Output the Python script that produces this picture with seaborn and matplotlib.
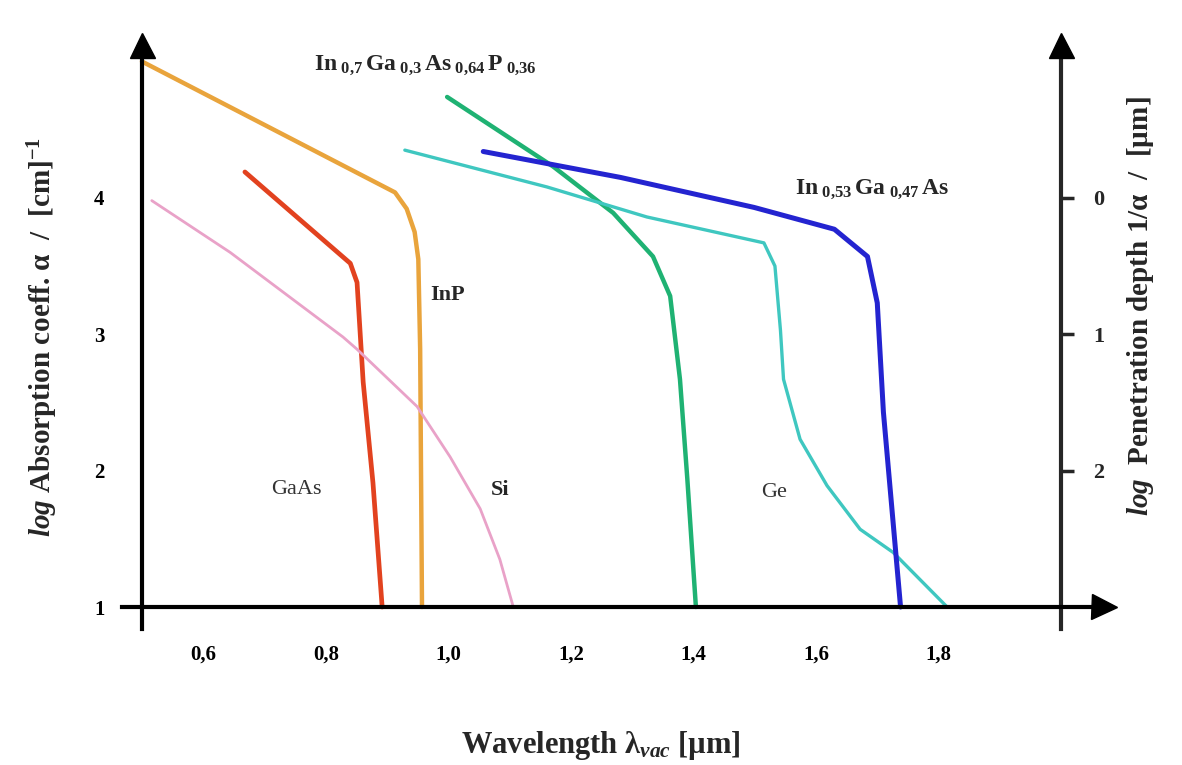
import numpy as np
import pandas as pd
import matplotlib
matplotlib.use("Agg")
import matplotlib.pyplot as plt
import seaborn as sns

# Absorption curves (wavelength in µm, log alpha in cm^-1)
inp_x = [0.50, 0.913, 0.932, 0.945, 0.951, 0.954, 0.957]
inp_y = [5.00, 4.04, 3.92, 3.75, 3.55, 2.89, 1.00]

gaas_x = [0.668, 0.840, 0.851, 0.861, 0.877, 0.892]
gaas_y = [4.19, 3.52, 3.38, 2.65, 1.91, 1.00]

si_x = [0.516, 0.644, 0.828, 0.851, 0.949, 1.003, 1.052, 1.084, 1.106]
si_y = [3.98, 3.60, 2.98, 2.89, 2.47, 2.10, 1.72, 1.35, 1.00]

ingaasp_x = [0.998, 1.171, 1.269, 1.334, 1.362, 1.378, 1.390, 1.404]
ingaasp_y = [4.74, 4.23, 3.89, 3.57, 3.28, 2.67, 1.94, 1.00]

ge_x = [0.929, 1.161, 1.324, 1.515, 1.533, 1.542, 1.547, 1.574, 1.618, 1.672, 1.726, 1.814]
ge_y = [4.35, 4.08, 3.86, 3.67, 3.50, 3.03, 2.67, 2.23, 1.89, 1.57, 1.40, 1.00]

ingaas_x = [1.057, 1.281, 1.499, 1.630, 1.684, 1.700, 1.710, 1.738]
ingaas_y = [4.34, 4.15, 3.93, 3.77, 3.57, 3.23, 2.43, 1.00]

x_ticks = [0.6, 0.8, 1.0, 1.2, 1.4, 1.6, 1.8]
x_ticklabels = ["0,6", "0,8", "1,0", "1,2", "1,4", "1,6", "1,8"]
y_ticks = [1, 2, 3, 4]
depth_ticks = [0, 1, 2]

sns.set_style("white")
plt.rcParams["font.family"] = ["Liberation Serif", "DejaVu Serif"]
plt.rcParams["font.weight"] = "bold"
plt.rcParams["mathtext.fontset"] = "custom"
plt.rcParams["mathtext.rm"] = "Liberation Serif:bold"
plt.rcParams["mathtext.it"] = "Liberation Serif:italic:bold"
plt.rcParams["mathtext.bf"] = "Liberation Serif:bold"

fig = plt.figure(figsize=(11.82, 7.65), dpi=100)
ax = fig.add_axes([0.103, 0.178, 0.831, 0.763])

curves = [
    (inp_x, inp_y, "#e9a43c", 3.2),
    (gaas_x, gaas_y, "#e2421f", 3.4),
    (si_x, si_y, "#e9a2c8", 2.0),
    (ingaasp_x, ingaasp_y, "#1fb273", 3.2),
    (ge_x, ge_y, "#3fc7c0", 2.4),
    (ingaas_x, ingaas_y, "#2424d0", 3.6),
]
for xs, ys, col, lw in curves:
    sns.lineplot(x=xs, y=ys, ax=ax, color=col, linewidth=lw, sort=False,
                 estimator=None)

ax.set_xlim(0.467, 2.07)
ax.set_ylim(0.84, 5.12)

for side in ["top", "right"]:
    ax.spines[side].set_visible(False)
ax.spines["left"].set_position(("data", 0.5))
ax.spines["bottom"].set_position(("data", 1.0))
for side in ["left", "bottom"]:
    ax.spines[side].set_linewidth(3)
    ax.spines[side].set_color("black")

ax.set_xticks([0.5] + x_ticks + [2.0])
ax.set_xticklabels([""] + x_ticklabels + [""])
ax.set_yticks(y_ticks)
ax.tick_params(axis="both", direction="out", length=18, width=2.5,
               labelsize=15, pad=9, colors="black")

# right axis: log penetration depth = 4 - log alpha
sec = ax.secondary_yaxis((2.0 - 0.467) / (2.07 - 0.467),
                         functions=(lambda y: 4 - y, lambda p: 4 - p))
sec.set_yticks(depth_ticks)
sec.spines["right"].set_linewidth(3)
sec.tick_params(direction="out", length=9, width=2.5, labelsize=16, pad=14)

# axis arrowheads
ax.plot([0.5], [5.12], marker="^", markersize=18, color="black", clip_on=False)
ax.plot([2.0], [5.12], marker="^", markersize=18, color="black", clip_on=False)
ax.plot([2.07], [1.0], marker=">", markersize=18, color="black", clip_on=False)

# curve labels
ax.text(0.78, 4.97,
        r"In$_{\ 0{,}7}\,$Ga$_{\ 0{,}3}\,$As$_{\ 0{,}64}\,$P$_{\ 0{,}36}$",
        fontsize=17, va="center")
ax.text(1.566, 4.06, r"In$_{\ 0{,}53}\,$Ga$_{\ 0{,}47}\,$As", fontsize=17,
        va="center")
ax.text(0.97, 3.29, "InP", fontsize=16, va="center")
ax.text(0.71, 1.86, "GaAs", fontsize=16, va="center", weight="normal",
        color="#333333")
ax.text(1.07, 1.86, "Si", fontsize=16, va="center")
ax.text(1.51, 1.84, "Ge", fontsize=16, va="center", weight="normal",
        color="#333333")

fig.text(0.036, 0.56, r"$\mathit{log}$ Absorption coeff. α  /  [cm]$^{-1}$",
         rotation=90, fontsize=21, ha="center", va="center")
fig.text(0.965, 0.60, r"$\mathit{log}$  Penetration depth 1/α  /  [µm]",
         rotation=90, fontsize=21, ha="center", va="center")
fig.text(0.508, 0.026, r"Wavelength λ$_{vac}$ [µm]", fontsize=22,
         ha="center", va="center")

fig.savefig("out.png", dpi=100)
